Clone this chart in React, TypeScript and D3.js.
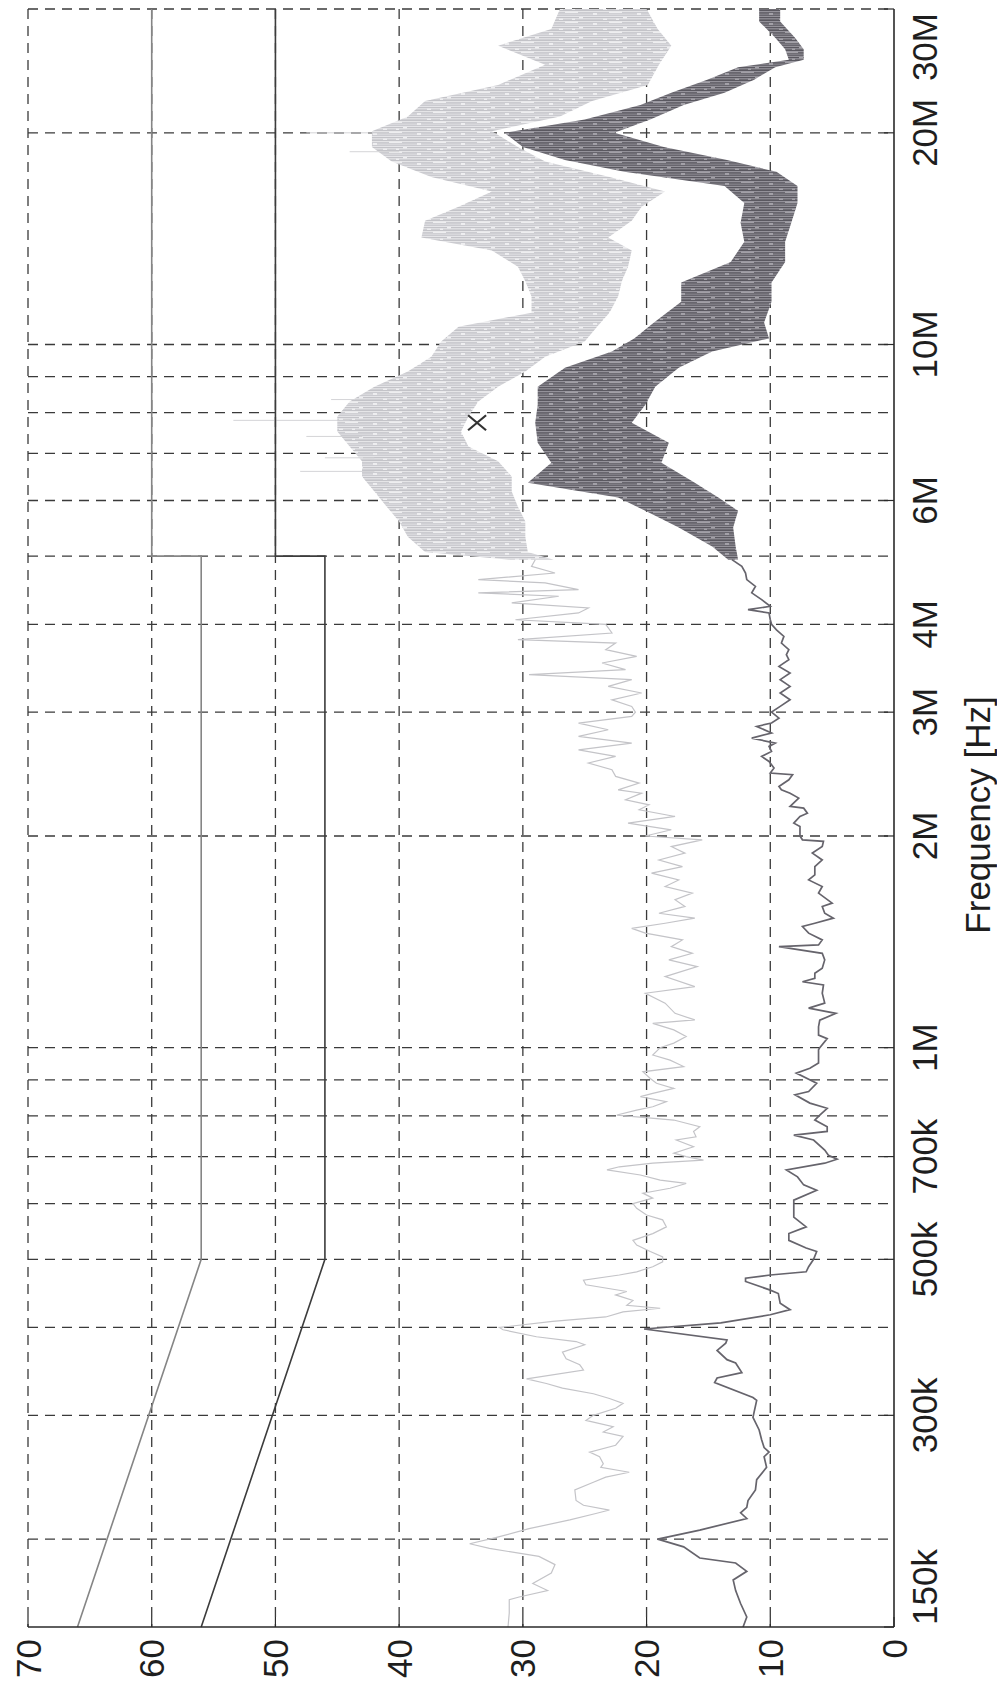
import React from "react";
import * as d3 from "d3";

// ---------- DATA ----------
// Average-like (dark) trace, line part: [kHz, dB]
const darkLine: [number, number][] = [
  [150, 12.2], [155, 11.9], [162, 12.4], [169, 12.8], [175, 13.0], [180, 11.9], [185, 12.8], [188, 15.7],
  [195, 17.0], [200, 19.1], [206, 15.7], [214, 11.9], [218, 12.4], [222, 11.9], [227, 11.8], [235, 11.2],
  [243, 11.1], [253, 10.3], [262, 10.5], [266, 10.1], [270, 10.5], [277, 10.7], [286, 10.9], [298, 11.4],
  [315, 11.1], [318, 11.4], [334, 14.5], [339, 14.3], [345, 12.3], [356, 12.8], [360, 13.5], [371, 14.3],
  [380, 13.6], [384, 13.5], [398, 20.2], [406, 14.0], [417, 10.0], [424, 8.4], [433, 9.2], [447, 9.35],
  [452, 10.0], [465, 12.0], [470, 12.0], [475, 10.0], [480, 7.1], [488, 6.9], [500, 6.5], [513, 6.25],
  [519, 7.1], [532, 8.5], [544, 8.5], [556, 7.1], [574, 8.1], [597, 8.1], [607, 8.1], [627, 6.25],
  [638, 7.3], [655, 7.8], [670, 8.7], [685, 5.6], [694, 4.6], [703, 5.3], [715, 5.6], [739, 6.5],
  [751, 8.1], [760, 5.4], [772, 5.4], [789, 6.4], [802, 6.0], [820, 5.4], [834, 6.8], [857, 8.0],
  [866, 6.9], [890, 6.25], [920, 7.9], [935, 6.8], [951, 6.1], [993, 6.1], [1000, 6.0], [1030, 5.4],
  [1042, 6.1], [1071, 6.1], [1094, 6.0], [1119, 4.7], [1138, 6.9], [1157, 5.6], [1195, 5.8], [1228, 5.7],
  [1241, 7.4], [1255, 6.4], [1276, 6.4], [1297, 5.8], [1333, 5.6], [1362, 5.8], [1392, 9.3], [1400, 6.1],
  [1423, 5.8], [1455, 6.9], [1487, 7.4], [1503, 6.4], [1528, 4.9], [1553, 5.6], [1588, 5.8], [1605, 5.0],
  [1659, 6.1], [1695, 5.8], [1732, 6.9], [1761, 6.4], [1809, 6.4], [1849, 5.8], [1891, 6.6], [1932, 5.8],
  [1965, 5.7], [1975, 7.4], [2000, 7.6], [2063, 7.6], [2086, 8.1], [2132, 7.6], [2155, 7.0], [2191, 7.3],
  [2203, 8.4], [2264, 7.7], [2301, 8.4], [2326, 9.1], [2352, 9.3], [2404, 8.5], [2444, 8.2], [2458, 10.0],
  [2498, 9.7], [2553, 10.1], [2595, 10.7], [2638, 9.9], [2682, 10.1], [2711, 9.6], [2756, 11.5], [2802, 9.9],
  [2863, 11.1], [2895, 9.9], [2942, 9.3], [3000, 9.9], [3057, 9.2], [3124, 8.4], [3194, 9.2], [3264, 8.4],
  [3337, 9.2], [3411, 8.4], [3485, 9.3], [3562, 8.5], [3621, 8.7], [3681, 8.5], [3762, 9.1], [3845, 8.9],
  [3929, 9.5], [4000, 9.9], [4060, 10.0], [4152, 10.1], [4197, 11.8], [4243, 10.0], [4337, 10.7], [4434, 11.5],
  [4529, 11.2], [4630, 11.9], [4732, 12.0], [4836, 12.3], [4943, 13.1],
];

// Dark trace, dense band part: [MHz, low dB, high dB]
const darkBand: [number, number, number][] = [
  [4.94, 12.6, 13.4], [5.16, 12.8, 14.7], [5.49, 13.0, 17.4], [5.80, 12.6, 20.1], [6.06, 14.2, 22.3],
  [6.36, 16.1, 29.6], [6.79, 18.8, 27.7], [7.25, 18.2, 28.8], [7.74, 21.2, 29.0], [8.21, 20.1, 28.8],
  [8.71, 19.3, 28.8], [9.27, 17.4, 26.6], [9.77, 14.7, 22.8], [10.2, 10.1, 21.0], [10.75, 10.5, 19.4],
  [11.5, 9.9, 17.2], [12.25, 9.9, 17.2], [13.1, 8.8, 13.2], [14.0, 8.8, 12.1], [14.9, 8.3, 12.4],
  [15.9, 7.8, 12.1], [16.8, 7.8, 13.7], [17.6, 9.5, 21.8], [18.3, 13.5, 26.6], [19.1, 18.6, 30.0],
  [20.0, 22.6, 31.5], [20.9, 19.7, 25.0], [21.9, 17.0, 20.5], [22.8, 13.7, 18.0], [23.8, 11.3, 15.1],
  [24.8, 9.6, 12.6], [25.4, 7.3, 8.5], [26.3, 7.3, 8.8], [27.3, 8.0, 9.6], [28.8, 9.2, 10.9], [30.0, 9.2, 10.9],
];

// Peak-like (light) trace, line part: [kHz, dB]
const lightLine: [number, number][] = [
  [150, 31.2], [157, 31.1], [164, 31.1], [165.5, 30.3], [169, 28.0], [173, 29.2], [179, 27.7], [184, 27.4],
  [189, 28.7], [194, 32.7], [197, 34.3], [201, 32.2], [207, 29.5], [213, 26.2], [217.5, 24.1], [220, 23.0],
  [223.5, 25.1], [227, 25.7], [235, 25.8], [241, 24.3], [245, 23.3], [249, 21.4], [253, 23.7], [256, 23.5],
  [262, 23.8], [266, 24.6], [272, 22.5], [280, 21.9], [284, 23.5], [289, 22.7], [295, 24.9], [300, 24.3],
  [307, 22.5], [312, 21.9], [317, 23.0], [322, 24.3], [328, 26.8], [333, 28.1], [338, 29.7], [348, 25.1],
  [354, 25.4], [361, 26.5], [369, 26.8], [378, 25.0], [382, 25.7], [388, 28.9], [397, 31.6], [400, 31.9],
  [408, 27.6], [414, 23.3], [421, 21.9], [426, 18.9], [430, 21.6], [437, 21.1], [445, 22.5], [450, 21.6],
  [460, 24.9], [467, 25.1], [475, 22.2], [480, 20.8], [488, 19.5], [496, 18.7], [504, 18.7], [513, 19.7],
  [524, 20.8], [532, 21.1], [544, 19.5], [556, 18.4], [569, 18.7], [578, 20.0], [591, 20.8], [600, 21.1],
  [611, 19.5], [621, 20.3], [631, 18.1], [641, 16.8], [648, 18.9], [659, 20.5], [670, 23.2], [677, 22.2],
  [685, 19.5], [692, 15.4], [700, 16.8], [708, 17.8], [723, 16.2], [739, 17.6], [747, 16.0], [760, 16.2],
  [772, 15.7], [789, 17.8], [802, 22.4], [815, 20.8], [824, 19.5], [838, 18.4], [852, 20.5], [861, 19.5],
  [875, 17.8], [890, 19.2], [904, 19.7], [924, 20.3], [940, 17.0], [960, 18.1], [976, 19.5], [1000, 18.9],
  [1015, 17.8], [1037, 16.8], [1060, 17.8], [1083, 19.5], [1095, 16.1], [1119, 17.7], [1157, 18.5],
  [1195, 20.1], [1221, 16.1], [1262, 18.5], [1304, 15.9], [1333, 18.2], [1362, 16.3], [1392, 18.0],
  [1423, 17.1], [1455, 20.1], [1478, 21.2], [1503, 18.5], [1528, 16.1], [1553, 19.0], [1588, 16.9],
  [1623, 17.7], [1659, 16.3], [1695, 18.5], [1732, 17.4], [1771, 19.6], [1809, 17.1], [1849, 19.0],
  [1891, 16.9], [1932, 18.0], [1975, 15.5], [2000, 20.1], [2041, 18.0], [2086, 21.5], [2132, 17.7],
  [2179, 20.6], [2215, 19.8], [2252, 21.7], [2301, 20.4], [2326, 22.3], [2378, 20.6], [2431, 22.5],
  [2485, 22.8], [2540, 24.7], [2595, 22.5], [2652, 25.5], [2711, 21.2], [2771, 25.5], [2832, 23.1],
  [2895, 25.5], [2958, 21.2], [3000, 20.9], [3057, 21.2], [3124, 22.8], [3194, 20.4], [3264, 23.1],
  [3337, 21.2], [3392, 29.5], [3448, 21.7], [3524, 23.6], [3601, 20.8], [3681, 23.3], [3762, 22.5],
  [3804, 30.4], [3888, 22.8], [4000, 23.3], [4060, 30.6], [4152, 25.5], [4220, 24.7], [4290, 30.9],
  [4385, 27.1], [4434, 33.6], [4482, 25.5], [4580, 28.2], [4630, 33.6], [4732, 27.4], [4836, 29.3],
  [4943, 29.0],
];

// Light trace, dense band part: [MHz, low dB, high dB]
const lightBand: [number, number, number][] = [
  [4.94, 27.5, 31.0], [5.07, 29.6, 37.9],
  [5.33, 29.8, 39.3], [5.60, 29.8, 40.0], [5.88, 30.4, 41.0], [6.18, 30.9, 42.0], [6.49, 30.9, 43.0],
  [6.82, 32.0, 43.0], [7.16, 34.4, 44.0], [7.52, 35.0, 45.0], [7.90, 34.4, 45.0], [8.30, 33.6, 44.0],
  [8.71, 32.0, 42.0], [9.15, 29.8, 39.3], [9.61, 28.2, 37.4], [10.1, 25.0, 36.6], [10.6, 24.0, 35.2],
  [11.1, 23.0, 29.3], [11.7, 22.3, 29.3], [12.3, 22.0, 29.8], [12.9, 21.5, 30.4], [13.6, 21.2, 32.5],
  [14.2, 23.1, 38.2], [15.0, 21.2, 37.9], [15.7, 20.4, 35.2], [16.5, 18.5, 32.5], [17.3, 23.0, 37.4],
  [18.2, 28.2, 40.6], [19.1, 30.4, 42.2], [20.1, 32.5, 42.2], [21.1, 27.0, 39.3], [22.2, 24.4, 37.9],
  [23.4, 19.9, 32.0], [25.0, 19.0, 28.2], [26.6, 18.0, 32.0], [28.1, 19.1, 27.7], [30.0, 20.0, 27.0],
];

// Isolated faint light strokes: [MHz, from dB, to dB]
const lightSpikes: [number, number, number][] = [
  [6.6, 42, 48], [6.9, 42, 46], [7.4, 43, 47.5], [7.8, 44, 53.4], [8.35, 43, 45.5], [18.8, 40, 44], [20.0, 41, 47.5],
];

// Limit lines: [kHz, dB]
const limitQP: [number, number][] = [[150, 66], [500, 56], [5000, 56], [5000, 60], [30000, 60]];
const limitAV: [number, number][] = [[150, 56], [500, 46], [5000, 46], [5000, 50], [30000, 50]];

// Marker: [MHz, dB]
const marker: [number, number] = [7.74, 33.7];

const freqGrid = [200e3, 300e3, 400e3, 500e3, 600e3, 700e3, 800e3, 900e3, 1e6, 2e6, 3e6, 4e6, 5e6, 6e6, 7e6, 8e6, 9e6, 10e6, 20e6, 30e6];
const freqTicks: [number, string][] = [
  [150e3, "150k"], [300e3, "300k"], [500e3, "500k"], [700e3, "700k"], [1e6, "1M"], [2e6, "2M"],
  [3e6, "3M"], [4e6, "4M"], [6e6, "6M"], [10e6, "10M"], [20e6, "20M"], [30e6, "30M"],
];
const dbTicks = [0, 10, 20, 30, 40, 50, 60, 70];
const xLabel = "Frequency [Hz]";

// ---------- CHART ----------
const W = 997, H = 1690;
const xS = d3.scaleLinear().domain([0, 70]).range([894, 28]);
const yS = d3.scaleLog().domain([150e3, 30e6]).range([1627, 9]);

const FONT = "'Liberation Sans', Arial, Helvetica, sans-serif";

// broken-stroke texture (x, y, w, h) used inside the dense bands
const strokeTex: [number, number, number, number][] = [
  [0, 0, 44, 1.1], [6, 1.9, 31, 0.9], [0, 3.3, 21, 1.2], [25, 3.3, 19, 1.2], [0, 5.2, 44, 1.0],
  [11, 7.0, 33, 1.2], [0, 7.0, 7, 1.2], [3, 8.8, 28, 0.9], [35, 8.8, 9, 0.9],
];

export default function App() {
  const lineK = d3.line<[number, number]>().x((d) => xS(d[1])).y((d) => yS(d[0] * 1e3));
  const bandM = d3
    .area<[number, number, number]>()
    .y((d) => yS(d[0] * 1e6))
    .x0((d) => xS(d[1]))
    .x1((d) => xS(d[2]));
  const [x0, x1] = xS.range().slice().sort((a, b) => a - b);
  const [yTop, yBot] = [yS(30e6), yS(150e3)];

  return (
    <svg
      width={W}
      height={H}
      viewBox={`0 0 ${W} ${H}`}
      style={{ position: "absolute", left: 0, top: 0, background: "#fff" }}
    >
      <defs>
        <pattern id="lightStripes" width="44" height="10" patternUnits="userSpaceOnUse">
          <rect width="44" height="10" fill="#eeeef0" />
          {strokeTex.map((r, i) => (
            <rect key={i} x={r[0]} y={r[1]} width={r[2]} height={r[3]} fill="#c3c3c8" />
          ))}
        </pattern>
        <pattern id="darkStripes" width="44" height="10" patternUnits="userSpaceOnUse">
          <rect width="44" height="10" fill="#a3a1a8" />
          {strokeTex.map((r, i) => (
            <rect key={i} x={r[0]} y={r[1]} width={r[2]} height={r[3]} fill="#5a5860" />
          ))}
        </pattern>
      </defs>
      <rect x={0} y={0} width={W} height={H} fill="#fff" />

      {/* grid */}
      <g stroke="#3a3a3a" strokeWidth={1.3} strokeDasharray="10,7" fill="none">
        {freqGrid.map((f) => (
          <line key={"f" + f} x1={x0} x2={x1} y1={yS(f)} y2={yS(f)} />
        ))}
        {dbTicks.filter((d) => d > 0).map((d) => (
          <line key={"d" + d} x1={xS(d)} x2={xS(d)} y1={yTop} y2={yBot} />
        ))}
      </g>

      {/* light trace */}
      <path d={bandM(lightBand) ?? ""} fill="url(#lightStripes)" />
      <g stroke="#cfcfd3" strokeWidth={0.9}>
        {lightSpikes.map((s, i) => (
          <line key={i} x1={xS(s[1])} x2={xS(s[2])} y1={yS(s[0] * 1e6)} y2={yS(s[0] * 1e6)} />
        ))}
      </g>
      <path d={lineK(lightLine) ?? ""} fill="none" stroke="#c4c4c8" strokeWidth={1.2} />

      {/* dark trace */}
      <path d={bandM(darkBand) ?? ""} fill="url(#darkStripes)" />
      <path d={lineK(darkLine) ?? ""} fill="none" stroke="#66646c" strokeWidth={1.7} />

      {/* limits */}
      <path d={lineK(limitQP) ?? ""} fill="none" stroke="#858585" strokeWidth={1.6} />
      <path d={lineK(limitAV) ?? ""} fill="none" stroke="#3c3c3c" strokeWidth={1.6} />

      {/* marker */}
      <path
        transform={`translate(${xS(marker[1])},${yS(marker[0] * 1e6)})`}
        d="M-9,-7.5L9,7.5M-9,7.5L9,-7.5"
        stroke="#333"
        strokeWidth={2.2}
        fill="none"
      />

      {/* frame */}
      <g stroke="#2a2a2a" strokeWidth={1.6}>
        <line x1={xS(0)} x2={xS(0)} y1={yTop} y2={yBot} />
        <line x1={x0} x2={x1} y1={yBot} y2={yBot} />
      </g>
      <g stroke="#2a2a2a" strokeWidth={1.2}>
        {freqTicks.map(([f]) => (
          <line key={"t" + f} x1={xS(0) - 10} x2={xS(0)} y1={yS(f)} y2={yS(f)} />
        ))}
        {dbTicks.map((d) => (
          <line key={"td" + d} x1={xS(d)} x2={xS(d)} y1={yBot - 10} y2={yBot} />
        ))}
      </g>

      {/* labels */}
      <g fontFamily={FONT} fontSize={35} fill="#1e1e1e">
        {freqTicks.map(([f, t], i) => {
          const first = i === 0;
          const last = i === freqTicks.length - 1;
          const y = first ? yBot - 2 : last ? yTop + 4 : yS(f);
          return (
            <text
              key={"l" + f}
              transform={`translate(937,${y}) rotate(-90)`}
              textAnchor={first ? "start" : last ? "end" : "middle"}
            >
              {t}
            </text>
          );
        })}
        {dbTicks.map((d) => (
          <text key={"ld" + d} transform={`translate(${xS(d) + 12.5},${yBot + 12}) rotate(-90)`} textAnchor="end">
            {d}
          </text>
        ))}
        <text transform={`translate(990,815) rotate(-90)`} textAnchor="middle">
          {xLabel}
        </text>
      </g>
    </svg>
  );
}
